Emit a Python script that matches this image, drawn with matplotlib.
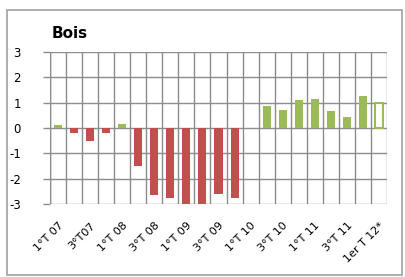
import matplotlib.pyplot as plt
from matplotlib.patches import Rectangle

plt.rcParams["axes.unicode_minus"] = False

# trimestres 2007 -> 1er T 2012
trimestres = ["1°T 07", "2°T07", "3°T07", "4°T07",
              "1°T 08", "2°T 08", "3°T 08", "4°T 08",
              "1°T 09", "2°T 09", "3°T 09", "4°T 09",
              "1°T 10", "2°T 10", "3°T 10", "4°T 10",
              "1°T 11", "2°T 11", "3°T 11", "4°T 11",
              "1er T 12*"]
valeurs = [0.1, -0.2, -0.5, -0.2,
           0.15, -1.5, -2.65, -2.75,
           -3.0, -3.05, -2.6, -2.75,
           0.0, 0.85, 0.72, 1.1,
           1.15, 0.68, 0.42, 1.28,
           0.98]
etiquettes = ["1°T 07", "3°T07", "1°T 08", "3°T 08", "1°T 09", "3°T 09",
              "1°T 10", "3°T 10", "1°T 11", "3°T 11", "1er T 12*"]

rouge = "#c0504d"
vert = "#9bbb59"
gris = "#8c8c8c"

fig = plt.figure(figsize=(4.05, 2.77), dpi=100)
fig.patches.append(Rectangle((7/405, 2/277), 395/405, 265/277, transform=fig.transFigure,
                             fill=False, edgecolor="#a0a0a0", linewidth=1.2))
ax = fig.add_axes([50/405, 1-204/277, 337/405, 152/277])

x = list(range(len(valeurs)))
couleurs = [vert if v >= 0 else rouge for v in valeurs]
ax.bar(x[:-1], valeurs[:-1], width=0.5, color=couleurs[:-1], zorder=3)
# dernier trimestre provisoire : barre vide
ax.bar(x[-1], valeurs[-1], width=0.5, color="white", edgecolor=vert, linewidth=1.5, zorder=3)

ax.set_xlim(-0.5, len(valeurs) - 0.5)
ax.set_ylim(-3, 3)
ax.set_yticks(range(-3, 4))
ax.set_xticks([i - 0.5 for i in range(len(valeurs) + 1)], minor=True)
ax.set_xticks(x[::2])
ax.set_xticklabels(etiquettes, rotation=45, ha="right", rotation_mode="anchor", fontsize=8)
ax.tick_params(axis="y", labelsize=8.5, length=5, color=gris, width=1, pad=16)
ax.tick_params(axis="x", which="both", length=0, pad=12)
ax.grid(axis="y", color=gris, linewidth=1, zorder=0)
ax.grid(axis="x", which="minor", color=gris, linewidth=1, zorder=0)
ax.grid(axis="x", which="major", visible=False)
for s in ax.spines.values():
    s.set_visible(False)
ax.axvline(-0.5, color=gris, linewidth=1, zorder=1)

fig.text(52/405, 1-33/277, "Bois", fontsize=11, fontweight="bold", va="center")

plt.savefig("out.png", dpi=100)
